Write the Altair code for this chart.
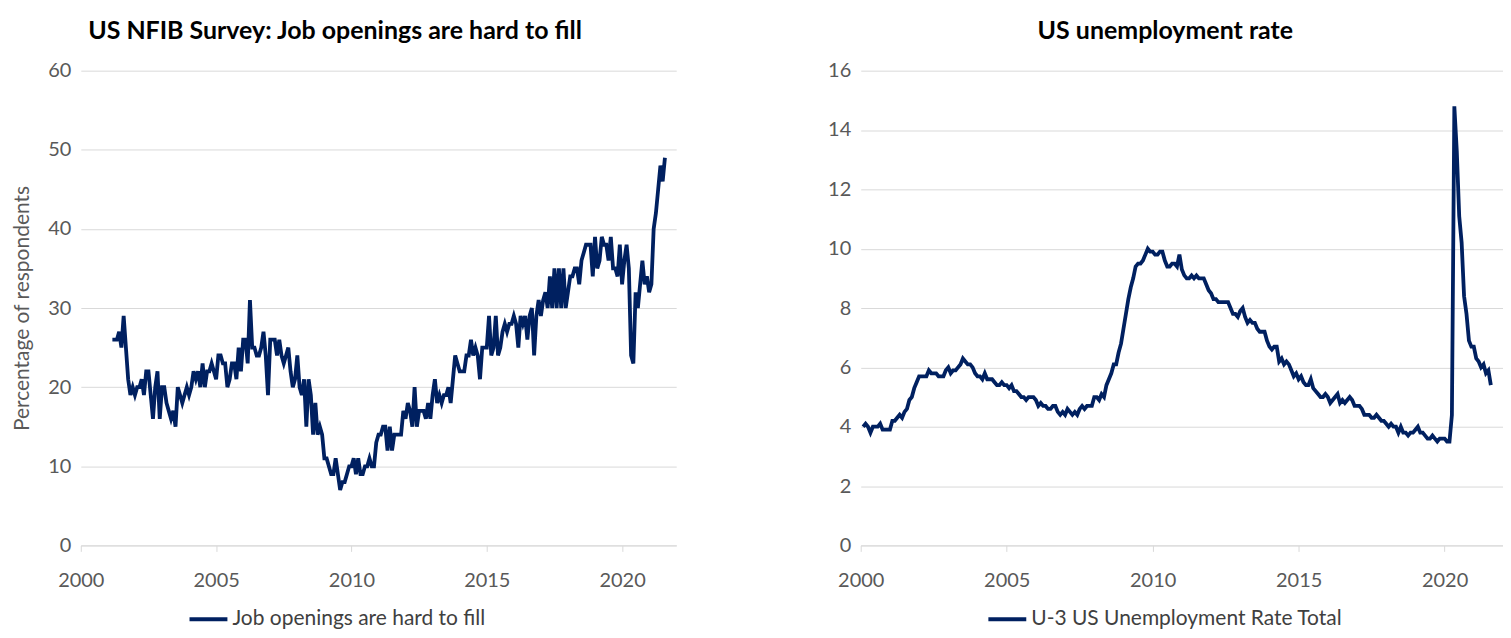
import altair as alt
import pandas as pd

# ---------------- data ----------------
nfib_label = "Job openings are hard to fill"
nfib_start = (2001, 2)  # first month (year, month)
nfib_values = [
    26, 26, 26, 27, 25, 29, 25, 21, 19, 20,
    19, 20, 20, 21, 19, 22, 22, 19, 16, 20,
    22, 16, 20, 20, 18, 17, 16, 17, 15, 20,
    19, 18, 19, 20, 19, 20, 22, 21, 22, 20,
    23, 20, 22, 22, 23, 22, 21, 24, 24, 23,
    23, 20, 21, 23, 23, 21, 25, 22, 26, 26,
    23, 31, 25, 25, 24, 24, 25, 27, 24, 19,
    26, 26, 26, 24, 26, 24, 23, 24, 25, 22,
    20, 21, 24, 20, 19, 21, 15, 21, 19, 14,
    18, 14, 15, 14, 11, 11, 10, 9, 9, 11,
    9, 7, 8, 8, 9, 10, 10, 11, 9, 11,
    9, 9, 10, 10, 11, 10, 10, 13, 14,
    14, 15, 15, 12, 15, 12, 14, 14, 14, 14,
    17, 16, 18, 17, 15, 20, 15, 17, 17, 17,
    16, 18, 16, 19, 21,
    18, 19, 18, 19, 19, 20, 18, 21, 24, 23,
    22, 22, 22, 24, 24, 26, 24, 25, 24, 21,
    25, 25, 25, 29, 24, 25, 29, 24, 25, 27,
    28, 27, 28, 28, 29, 28, 25, 29, 28, 29,
    26, 29, 30, 24, 29, 31, 29, 31, 32,
    30, 34, 30, 35, 30, 35, 30, 35, 30, 32,
    34, 34, 35, 35, 33, 36, 37, 38, 38, 38,
    34, 39, 35, 36, 39, 38, 38, 36, 39, 35,
    35, 34, 38, 33, 36, 38, 35,
    24, 23, 32, 30, 33, 36, 33, 34, 32, 33,
    40, 42, 45, 48, 46, 49,
]

unemp_label = "U-3 US Unemployment Rate Total"
unemp_start = (2000, 1)
unemp_values = [
    4.0, 4.1, 4.0, 3.8, 4.0, 4.0, 4.0, 4.1, 3.9, 3.9, 3.9, 3.9,
    4.2, 4.2, 4.3, 4.4, 4.3, 4.5, 4.6, 4.9, 5.0, 5.3, 5.5, 5.7,
    5.7, 5.7, 5.7, 5.9, 5.8, 5.8, 5.8, 5.7, 5.7, 5.7, 5.9, 6.0,
    5.8, 5.9, 5.9, 6.0, 6.1, 6.3, 6.2, 6.1, 6.1, 6.0, 5.8, 5.7,
    5.7, 5.6, 5.8, 5.6, 5.6, 5.6, 5.5, 5.4, 5.4, 5.5, 5.4, 5.4,
    5.3, 5.4, 5.2, 5.2, 5.1, 5.0, 5.0, 4.9, 5.0, 5.0, 5.0, 4.9,
    4.7, 4.8, 4.7, 4.7, 4.6, 4.6, 4.7, 4.7, 4.5, 4.4, 4.5, 4.4,
    4.6, 4.5, 4.4, 4.5, 4.4, 4.6, 4.7, 4.6, 4.7, 4.7, 4.7, 5.0,
    5.0, 4.9, 5.1, 5.0, 5.4, 5.6, 5.8, 6.1, 6.1, 6.5, 6.8, 7.3,
    7.8, 8.3, 8.7, 9.0, 9.4, 9.5, 9.5, 9.6, 9.8, 10.0, 9.9, 9.9,
    9.8, 9.8, 9.9, 9.9, 9.6, 9.4, 9.4, 9.5, 9.5, 9.4, 9.8, 9.3,
    9.1, 9.0, 9.0, 9.1, 9.0, 9.1, 9.0, 9.0, 9.0, 8.8, 8.6, 8.5,
    8.3, 8.3, 8.2, 8.2, 8.2, 8.2, 8.2, 8.0, 7.8, 7.8, 7.7, 7.9,
    8.0, 7.7, 7.5, 7.6, 7.5, 7.5, 7.3, 7.2, 7.2, 7.2, 6.9, 6.7,
    6.6, 6.7, 6.7, 6.2, 6.3, 6.1, 6.2, 6.1, 5.9, 5.7, 5.8, 5.6,
    5.7, 5.5, 5.4, 5.4, 5.6, 5.3, 5.2, 5.1, 5.0, 5.0, 5.1, 5.0,
    4.8, 4.9, 5.0, 5.1, 4.8, 4.9, 4.8, 4.9, 5.0, 4.9, 4.7, 4.7,
    4.7, 4.6, 4.4, 4.4, 4.4, 4.3, 4.3, 4.4, 4.3, 4.2, 4.2, 4.1,
    4.0, 4.1, 4.0, 4.0, 3.8, 4.0, 3.8, 3.8, 3.7, 3.8, 3.8, 3.9,
    4.0, 3.8, 3.8, 3.7, 3.6, 3.6, 3.7, 3.6, 3.5, 3.6, 3.6, 3.6,
    3.5, 3.5, 4.4, 14.8, 13.3, 11.1, 10.2, 8.4, 7.8, 6.9, 6.7, 6.7,
    6.3, 6.2, 6.0, 6.1, 5.8, 5.9, 5.4,
]

year_ticks = [2000, 2005, 2010, 2015, 2020]
left_title = "US NFIB Survey: Job openings are hard to fill"
right_title = "US unemployment rate"
left_ytitle = "Percentage of respondents"


def make_df(start, values, label):
    y0, m0 = start
    # month-end dates expressed as decimal years
    return pd.DataFrame({
        "t": [y0 + (m0 + i) / 12 for i in range(len(values))],
        "v": values,
        "s": [label] * len(values),
    })


nfib_df = make_df(nfib_start, nfib_values, nfib_label)
unemp_df = make_df(unemp_start, unemp_values, unemp_label)

FONT = "Lato"
LINE = "#002060"
GRID = "#d9d9d9"
LAB = "#595959"


def panel(df, label, title, ymax, ystep, ytitle, width, legend_x, title_dx):
    x = alt.X(
        "t:Q",
        scale=alt.Scale(domain=[2000, 2022], nice=False, zero=False),
        axis=alt.Axis(
            values=year_ticks, format="d", title=None, grid=False,
            domainColor=GRID, tickColor=GRID, tickSize=6, labelFlush=False,
            labelFont=FONT, labelFontSize=20, labelColor=LAB, labelPadding=19,
        ),
    )
    yaxis_kwargs = dict(
        values=list(range(0, ymax + 1, ystep)), grid=True, gridColor=GRID,
        domain=False, ticks=False, labelFont=FONT, labelFontSize=20,
        labelColor=LAB, labelPadding=10, labelFlush=False,
    )
    if ytitle:
        yaxis_kwargs.update(title=ytitle, titleFont=FONT, titleFontSize=21,
                            titleFontWeight="normal", titleColor=LAB,
                            titlePadding=15)
    else:
        yaxis_kwargs.update(title=None)
    y = alt.Y("v:Q", scale=alt.Scale(domain=[0, ymax], nice=False),
              axis=alt.Axis(**yaxis_kwargs))
    color = alt.Color(
        "s:N",
        scale=alt.Scale(domain=[label], range=[LINE]),
        legend=alt.Legend(
            title=None, orient="none", legendX=legend_x, legendY=529,
            symbolType="stroke", symbolStrokeWidth=4, symbolSize=1444,
            labelFont=FONT, labelFontSize=21, labelColor="#404040",
            labelOffset=3, labelLimit=500,
        ),
    )
    return alt.Chart(df).mark_line(strokeWidth=3.8).encode(
        x=x, y=y, color=color
    ).properties(
        width=width, height=476,
        title=alt.TitleParams(
            title, font=FONT, fontSize=25, fontWeight="bold", color="#000000",
            anchor="middle", frame="bounds", offset=17, dx=title_dx,
        ),
    )


left = panel(nfib_df, nfib_label, left_title, 60, 10, left_ytitle, 597, 107, -9)
right = panel(unemp_df, unemp_label, right_title, 16, 2, None, 644, 126, 0)

chart = alt.hconcat(left, right, spacing=151).resolve_scale(
    color="independent"
).properties(
    padding={"left": 3, "top": 10, "right": 0, "bottom": 0}
).configure_view(stroke=None)

chart.save("out.html", embed_options={"renderer": "svg", "actions": False})
